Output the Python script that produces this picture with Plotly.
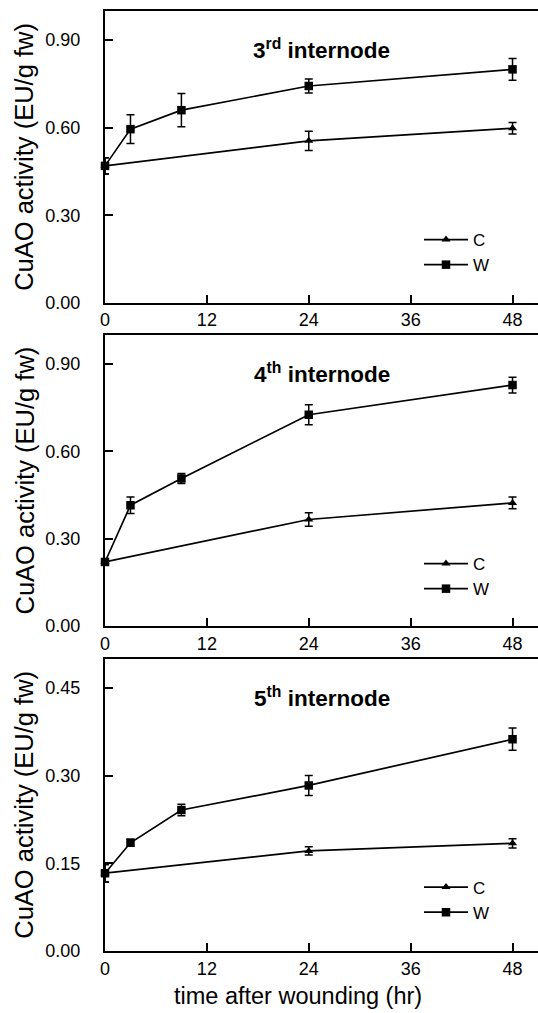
import plotly.graph_objects as go

# ---- data ----
hours_W = [0, 3, 9, 24, 48]
hours_C = [0, 24, 48]

p3_W = [0.469, 0.595, 0.660, 0.743, 0.800]
p3_W_err = [0.028, 0.049, 0.057, 0.024, 0.037]
p3_C = [0.469, 0.555, 0.598]
p3_C_err = [0.028, 0.033, 0.020]

p4_W = [0.220, 0.415, 0.507, 0.726, 0.828]
p4_W_err = [0.010, 0.028, 0.017, 0.034, 0.027]
p4_C = [0.220, 0.366, 0.423]
p4_C_err = [0.010, 0.023, 0.020]

p5_W = [0.133, 0.185, 0.241, 0.283, 0.362]
p5_W_err = [0.015, 0.006, 0.010, 0.017, 0.019]
p5_C = [0.133, 0.171, 0.184]
p5_C_err = [0.015, 0.007, 0.008]

panel_titles = ["<b>3<sup>rd</sup> internode</b>", "<b>4<sup>th</sup> internode</b>", "<b>5<sup>th</sup> internode</b>"]
y_ranges = [[0, 1.0], [0, 1.0], [0, 0.5]]
y_ticks = [[0, 0.3, 0.6, 0.9], [0, 0.3, 0.6, 0.9], [0, 0.15, 0.30, 0.45]]
x_ticks = [0, 12, 24, 36, 48]
y_title = "CuAO activity (EU/g fw)"
x_title = "time after wounding (hr)"

FONT = "Arial, Liberation Sans, Helvetica, sans-serif"
W, H = 538, 1013
# plot-area pixel bounds (top, bottom) per panel
pix = [(11, 302.7), (335, 626), (658.5, 951)]
x_left = 105

fig = go.Figure()
panels = [(p3_W, p3_W_err, p3_C, p3_C_err), (p4_W, p4_W_err, p4_C, p4_C_err), (p5_W, p5_W_err, p5_C, p5_C_err)]
legends = ["legend", "legend2", "legend3"]

for i, (w, we, c, ce) in enumerate(panels):
    ax = "" if i == 0 else str(i + 1)
    xa, ya = "x" + ax, "y" + ax
    fig.add_trace(go.Scatter(
        x=hours_C, y=c, name="C", mode="lines+markers",
        line=dict(color="black", width=1.7),
        marker=dict(symbol="triangle-up", size=8, color="black"),
        error_y=dict(type="data", array=ce, color="black", thickness=1.5, width=4),
        xaxis=xa, yaxis=ya, legend=legends[i], cliponaxis=False))
    fig.add_trace(go.Scatter(
        x=hours_W, y=w, name="W", mode="lines+markers",
        line=dict(color="black", width=1.7),
        marker=dict(symbol="square", size=8.5, color="black"),
        error_y=dict(type="data", array=we, color="black", thickness=1.5, width=4),
        xaxis=xa, yaxis=ya, legend=legends[i], cliponaxis=False))

layout = dict(
    width=W, height=H,
    margin=dict(l=0, r=0, t=0, b=0),
    paper_bgcolor="white", plot_bgcolor="white",
    font=dict(family=FONT, color="black"),
    showlegend=True,
)

annotations = []
for i in range(3):
    ax = "" if i == 0 else str(i + 1)
    top, bot = pix[i]
    dom_y = [1 - bot / H, 1 - top / H]
    layout["xaxis" + ax] = dict(
        domain=[x_left / W, 1.0], range=[0, 51], tickvals=x_ticks,
        ticks="inside", ticklen=8, tickwidth=1.5, tickcolor="black",
        showline=True, linecolor="black", linewidth=2, mirror=True,
        showgrid=False, zeroline=False, anchor="y" + ax,
        tickfont=dict(size=18, family=FONT), automargin=False)
    layout["yaxis" + ax] = dict(
        domain=dom_y, range=y_ranges[i], tickvals=y_ticks[i], tickformat=".2f",
        ticks="inside", ticklen=8, tickwidth=1.5, tickcolor="black",
        showline=True, linecolor="black", linewidth=2, mirror=False,
        showgrid=False, zeroline=False, anchor="x" + ax,
        tickfont=dict(size=18, family=FONT), ticklabelstandoff=19, automargin=False)
    leg_top = top + (222 - 11)
    layout[legends[i]] = dict(
        x=419 / W, y=1 - leg_top / H, xanchor="left", yanchor="top",
        bgcolor="rgba(0,0,0,0)", font=dict(size=17, family=FONT),
        itemwidth=44, tracegroupgap=0)
    # y title
    annotations.append(dict(
        text=y_title, textangle=-90, xref="paper", yref="paper",
        x=24 / W, y=(dom_y[0] + dom_y[1]) / 2, xanchor="center", yanchor="middle",
        showarrow=False, font=dict(size=25.5, family=FONT)))
    # panel title
    yr = y_ranges[i][1]
    annotations.append(dict(
        text=panel_titles[i], xref="x" + ax, yref="y" + ax,
        x=25.5, y=0.87 * yr, xanchor="center", yanchor="middle",
        showarrow=False, font=dict(size=22.5, family=FONT)))

annotations.append(dict(
    text=x_title, xref="paper", yref="paper", x=298 / W, y=1 - 996 / H,
    xanchor="center", yanchor="middle",
    showarrow=False, font=dict(size=23.5, family=FONT)))

layout["annotations"] = annotations
fig.update_layout(**layout)
fig.write_html("out.html", config={"displayModeBar": False},
               post_script="document.body.style.margin='0';document.body.style.overflow='hidden';")
